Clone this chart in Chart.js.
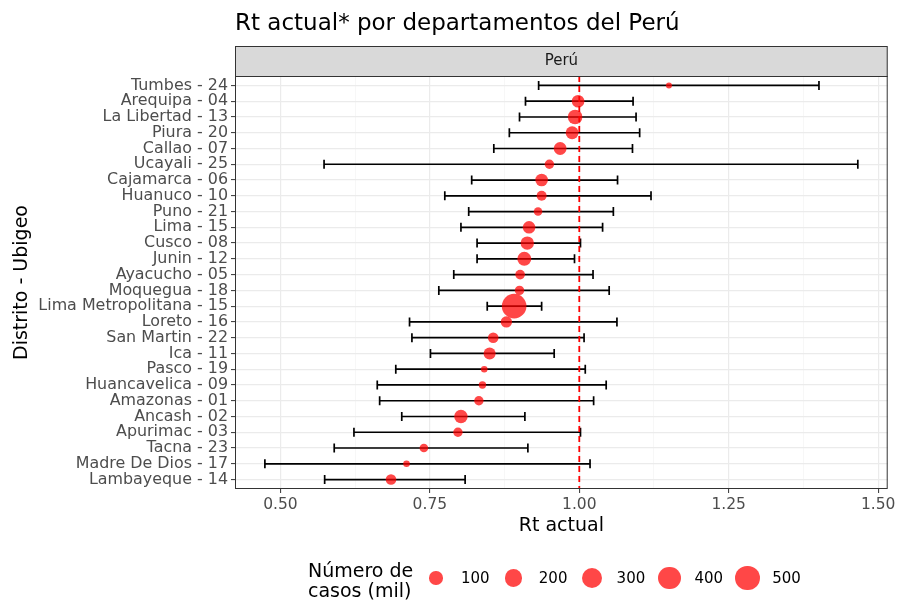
<!DOCTYPE html>
<html>
<head>
<meta charset="utf-8">
<script src="https://cdn.jsdelivr.net/npm/chart.js@4.4.1/dist/chart.umd.min.js"></script>
<style>
  html, body { margin: 0; padding: 0; background: #fff; }
  #wrap { position: relative; width: 900px; height: 603px; font-family: 'DejaVu Sans', sans-serif; }
  #rtChart { position: absolute; left: 0; top: 0; }
  #sizeLegend { position: absolute; left: 0; top: 0; width: 900px; height: 603px; pointer-events: none; }
  .leg-title { position: absolute; left: 308px; top: 560px; font-size: 19px; line-height: 20px; color: #000; }
  .leg-dot { position: absolute; border-radius: 50%; background: rgba(255, 0, 0, 0.72); }
  .leg-label { position: absolute; font-size: 15px; color: #000; line-height: 18px; }
</style>
</head>
<body>
<div id="wrap">
  <canvas id="rtChart" width="900" height="603"></canvas>
  <div id="sizeLegend">
    <div class="leg-title">Número de<br>casos (mil)</div>
  </div>
</div>
<script>
// Departamentos (top to bottom)
const categories = [
    'Tumbes - 24', 'Arequipa - 04', 'La Libertad - 13', 'Piura - 20', 'Callao - 07',
    'Ucayali - 25', 'Cajamarca - 06', 'Huanuco - 10', 'Puno - 21', 'Lima - 15',
    'Cusco - 08', 'Junin - 12', 'Ayacucho - 05', 'Moquegua - 18', 'Lima Metropolitana - 15',
    'Loreto - 16', 'San Martin - 22', 'Ica - 11', 'Pasco - 19', 'Huancavelica - 09',
    'Amazonas - 01', 'Ancash - 02', 'Apurimac - 03', 'Tacna - 23', 'Madre De Dios - 17',
    'Lambayeque - 14'
];

// Rt estimate and interval
const rtValues = [1.150, 0.998, 0.993, 0.988, 0.968, 0.950, 0.937, 0.937, 0.931, 0.916,
    0.913, 0.908, 0.901, 0.900, 0.891, 0.878, 0.856, 0.850, 0.841, 0.838,
    0.832, 0.802, 0.797, 0.740, 0.711, 0.685];
const rtLower = [0.932, 0.910, 0.900, 0.883, 0.857, 0.573, 0.820, 0.775, 0.815, 0.802,
    0.829, 0.829, 0.790, 0.765, 0.846, 0.716, 0.720, 0.751, 0.693, 0.662,
    0.666, 0.703, 0.623, 0.590, 0.474, 0.574];
const rtUpper = [1.401, 1.090, 1.095, 1.101, 1.089, 1.466, 1.064, 1.120, 1.057, 1.039,
    1.002, 0.992, 1.023, 1.050, 0.937, 1.063, 1.008, 0.958, 1.010, 1.045,
    1.024, 0.909, 1.002, 0.914, 1.018, 0.809];

// Número de casos (mil)
const cases = [4, 83, 128, 90, 88, 32, 83, 40, 23, 83,
    100, 113, 36, 32, 490, 61, 48, 72, 7, 12,
    32, 100, 32, 23, 7, 48];

const xTicks = [0.5, 0.75, 1.0, 1.25, 1.5];
const xMinorTicks = [0.625, 0.875, 1.125, 1.375];
const sizeBreaks = [100, 200, 300, 400, 500];
const refLine = 1.0;

// ggplot-like area scale: radius grows with sqrt of cases
function caseRadius(v) {
    return 2.1 + 10.4 * Math.sqrt(Math.max(v, 0) / 510);
}

const pointColor = 'rgba(255, 0, 0, 0.72)';

// Strip, error bars, reference line and panel border
const panelPlugin = {
    id: 'panelPlugin',
    beforeDatasetsDraw(chart) {
        const { ctx, chartArea, scales } = chart;
        const x = scales.x, y = scales.y;
        ctx.save();
        // error bars
        ctx.strokeStyle = '#000';
        ctx.lineWidth = 1.7;
        rtValues.forEach((v, i) => {
            const py = y.getPixelForValue(i);
            const x1 = x.getPixelForValue(rtLower[i]);
            const x2 = x.getPixelForValue(rtUpper[i]);
            ctx.beginPath();
            ctx.moveTo(x1, py); ctx.lineTo(x2, py);
            ctx.moveTo(x1, py - 4.5); ctx.lineTo(x1, py + 4.5);
            ctx.moveTo(x2, py - 4.5); ctx.lineTo(x2, py + 4.5);
            ctx.stroke();
        });
        // dashed reference line
        const rx = x.getPixelForValue(refLine);
        ctx.strokeStyle = '#ff0000';
        ctx.lineWidth = 1.8;
        ctx.setLineDash([6, 4]);
        ctx.beginPath();
        ctx.moveTo(rx, chartArea.top);
        ctx.lineTo(rx, chartArea.bottom);
        ctx.stroke();
        ctx.restore();
    },
    afterDraw(chart) {
        const { ctx, chartArea } = chart;
        ctx.save();
        // panel border
        ctx.strokeStyle = '#333333';
        ctx.lineWidth = 1;
        ctx.strokeRect(chartArea.left + 0.5, chartArea.top + 0.5,
            chartArea.right - chartArea.left - 1, chartArea.bottom - chartArea.top - 1);
        // facet strip
        const top = chartArea.top - 30;
        ctx.fillStyle = '#d9d9d9';
        ctx.fillRect(chartArea.left, top, chartArea.right - chartArea.left, 30);
        ctx.strokeRect(chartArea.left + 0.5, top + 0.5, chartArea.right - chartArea.left - 1, 30);
        ctx.fillStyle = '#1a1a1a';
        ctx.font = '15px "DejaVu Sans"';
        ctx.textAlign = 'center';
        ctx.textBaseline = 'middle';
        ctx.fillText('Perú', (chartArea.left + chartArea.right) / 2, top + 15.5);
        ctx.restore();
    }
};

function initChart() {
    Chart.defaults.font.family = "'DejaVu Sans', sans-serif";
    const ctx = document.getElementById('rtChart').getContext('2d');

    new Chart(ctx, {
        type: 'scatter',
        data: {
            datasets: [{
                label: 'Rt actual',
                data: rtValues.map((v, i) => ({ x: v, y: i })),
                backgroundColor: pointColor,
                borderWidth: 0,
                pointRadius: cases.map(caseRadius),
                pointHoverRadius: cases.map(caseRadius)
            }]
        },
        options: {
            responsive: false,
            animation: false,
            layout: { padding: { left: 0, right: 11, top: 0, bottom: 64 } },
            plugins: {
                legend: { display: false },
                tooltip: { enabled: false },
                title: {
                    display: true,
                    text: 'Rt actual* por departamentos del Perú',
                    align: 'start',
                    fullSize: false,
                    color: '#000',
                    font: { size: 23, weight: 'normal' },
                    padding: { top: 10, bottom: 38.4 }
                }
            },
            scales: {
                x: {
                    type: 'linear',
                    min: 0.424,
                    max: 1.516,
                    afterBuildTicks: (scale) => {
                        scale.ticks = [...xTicks, ...xMinorTicks].sort((a, b) => a - b).map(v => ({ value: v }));
                    },
                    afterFit: (scale) => { scale.height = 50; },
                    ticks: {
                        color: '#4d4d4d',
                        font: { size: 15.5 },
                        padding: 3,
                        maxRotation: 0,
                        autoSkip: false,
                        callback: (v) => xTicks.includes(v) ? v.toFixed(2) : ''
                    },
                    grid: {
                        color: (c) => xTicks.includes(c.tick.value) ? '#ebebeb' : '#f3f3f3',
                        lineWidth: (c) => xTicks.includes(c.tick.value) ? 1.2 : 0.7,
                        tickColor: (c) => xTicks.includes(c.tick.value) ? '#333333' : 'rgba(0,0,0,0)',
                        tickLength: 4,
                        tickWidth: 1
                    },
                    border: { display: false },
                    title: {
                        display: true,
                        text: 'Rt actual',
                        color: '#000',
                        font: { size: 19 },
                        padding: { top: 0, bottom: 2 }
                    }
                },
                y: {
                    type: 'linear',
                    reverse: true,
                    min: -0.6,
                    max: categories.length - 1 + 0.6,
                    afterBuildTicks: (scale) => {
                        scale.ticks = categories.map((c, i) => ({ value: i }));
                    },
                    afterFit: (scale) => { scale.width = 235; },
                    ticks: {
                        color: '#4d4d4d',
                        font: { size: 15.9, lineHeight: 1 },
                        padding: 3,
                        autoSkip: false,
                        callback: (v) => categories[v]
                    },
                    grid: {
                        color: '#ebebeb',
                        lineWidth: 1.2,
                        tickColor: '#333333',
                        tickLength: 4,
                        tickWidth: 1
                    },
                    border: { display: false },
                    title: {
                        display: true,
                        text: 'Distrito - Ubigeo',
                        color: '#000',
                        font: { size: 19 },
                        padding: { top: 11, bottom: 0 }
                    }
                }
            }
        },
        plugins: [panelPlugin]
    });
}

// Size legend under the plot
function buildSizeLegend() {
    const box = document.getElementById('sizeLegend');
    const firstX = 436, stepX = 77.8, centerY = 578;
    sizeBreaks.forEach((b, i) => {
        const r = caseRadius(b);
        const cx = firstX + i * stepX;
        const dot = document.createElement('div');
        dot.className = 'leg-dot';
        dot.style.left = (cx - r) + 'px';
        dot.style.top = (centerY - r) + 'px';
        dot.style.width = (2 * r) + 'px';
        dot.style.height = (2 * r) + 'px';
        box.appendChild(dot);

        const lab = document.createElement('div');
        lab.className = 'leg-label';
        lab.textContent = b;
        lab.style.left = (cx + 25) + 'px';
        lab.style.top = (centerY - 9) + 'px';
        box.appendChild(lab);
    });
}

document.addEventListener('DOMContentLoaded', () => {
    initChart();
    buildSizeLegend();
});
</script>
</body>
</html>
